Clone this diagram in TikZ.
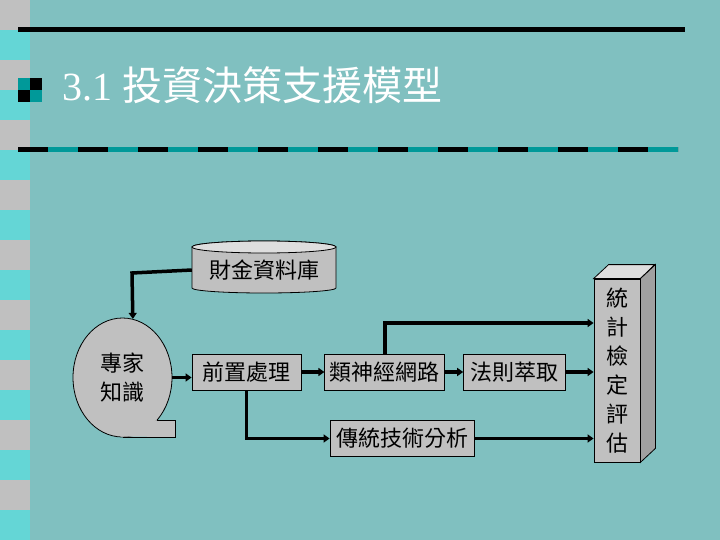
\documentclass[tikz,border=0pt]{standalone}
\usepackage{fontspec}
\setmainfont{Liberation Serif}
\newfontfamily\cjk{Noto Sans CJK TC}
\usetikzlibrary{arrows.meta,positioning,shapes.geometric,calc}
\definecolor{bgteal}{RGB}{128,192,192}
\definecolor{darkteal}{RGB}{0,153,153}
\definecolor{silver}{RGB}{192,192,192}
\definecolor{stripcyan}{RGB}{100,214,214}
\definecolor{capgray}{RGB}{222,222,222}
\definecolor{sidegray}{RGB}{160,160,160}

\begin{document}
\begin{tikzpicture}[x=1pt,y=-1pt,
    proc/.style={draw, line width=0.8pt, fill=silver, inner sep=0pt,
      minimum height=36pt},
    flow/.style={-{Triangle[length=6pt,width=8pt]}, line width=3.5pt},
    every node/.style={font=\cjk\fontsize{22}{29}\selectfont}
  ]
    % background and side strip
    \fill[bgteal] (0,0) rectangle (720,540);
    \useasboundingbox (0,0) rectangle (720,540);
    \foreach \y in {0,60,...,480} {
      \fill[silver] (0,\y) rectangle (30,\y+30);
      \fill[stripcyan] (0,\y+30) rectangle (30,\y+60);
    }
    % title rules and bullet
    \draw[line width=5pt] (18,30) -- (685,30);
    \draw[darkteal, line width=5pt] (18,150) -- (678,150);
    \draw[line width=5pt, dash pattern=on 30pt off 30pt] (18,150) -- (678,150);
    \fill[darkteal] (18,78) rectangle (42,102);
    \fill (30,78) rectangle (42,90);
    \fill (18,90) rectangle (30,102);
    \node[anchor=base west, text=white, inner sep=0pt,
      font=\fontsize{40}{48}\selectfont] (title) at (62,101) {3.1 {\cjk 投資決策支援模型}};
    % database
    \filldraw[fill=silver, line width=0.8pt] (192,247) -- (192,288)
      arc[start angle=180, end angle=360, x radius=72pt, y radius=5pt] -- (336,247)
      arc[start angle=0, end angle=180, x radius=72pt, y radius=6pt] -- cycle;
    \filldraw[fill=capgray, line width=0.8pt] (264,247) ellipse[x radius=72pt, y radius=6pt];
    \node[minimum width=144pt, inner sep=0pt] (db) at (264,270) {財金資料庫};
    % expert knowledge
    \node[draw, ellipse, fill=silver, line width=0.8pt, minimum width=99pt,
      minimum height=119pt, align=center, inner sep=0pt] (exp) at (122.5,377.5) {專家\\知識};
    \fill[silver] (120,436.5) -- (175,437) -- (175,420) -- (157.2,420) -- cycle;
    \draw[line width=0.8pt] (122.5,437) -- (175,437) -- (175,420) -- (157.2,420);
    % processing steps
    \node[proc, minimum width=109pt] (pre) at (246.5,372) {前置處理};
    \node[proc, minimum width=120pt, right=23pt of pre] (ann) {類神經網路};
    \node[proc, minimum width=102pt, right=18pt of ann] (rule) {法則萃取};
    \node[proc, minimum width=144pt] (trad) at (402,438.5) {傳統技術分析};
    % evaluation block
    \node[proc, minimum width=46pt, minimum height=183pt, align=center] (stat)
      at (617,370.5) {統\\計\\檢\\定\\評\\估};
    \filldraw[fill=capgray, line width=0.8pt] (stat.north west) -- ++(15,-14)
      -- ++(46,0) -- (stat.north east) -- cycle;
    \filldraw[fill=sidegray, line width=0.8pt] (stat.north east) -- ++(15,-14)
      -- ($(stat.south east)+(15,-14)$) -- (stat.south east) -- cycle;
    % connectors
    \coordinate (bend) at (132,273);
    \coordinate (nnrow) at (0,323);
    \draw[flow] (db.west) -- (bend) -- (exp.80);
    \draw[flow] (exp.east) -- (exp.east -| pre.west);
    \draw[flow] (pre) -- (ann);
    \draw[flow] (ann) -- (rule);
    \draw[flow] (rule) -- (rule -| stat.west);
    \draw[flow] (ann.north) |- (nnrow -| stat.west);
    \draw[flow] (pre.south) |- (trad.west);
    \draw[flow] (trad) -- (trad -| stat.west);
  \end{tikzpicture}
\end{document}
